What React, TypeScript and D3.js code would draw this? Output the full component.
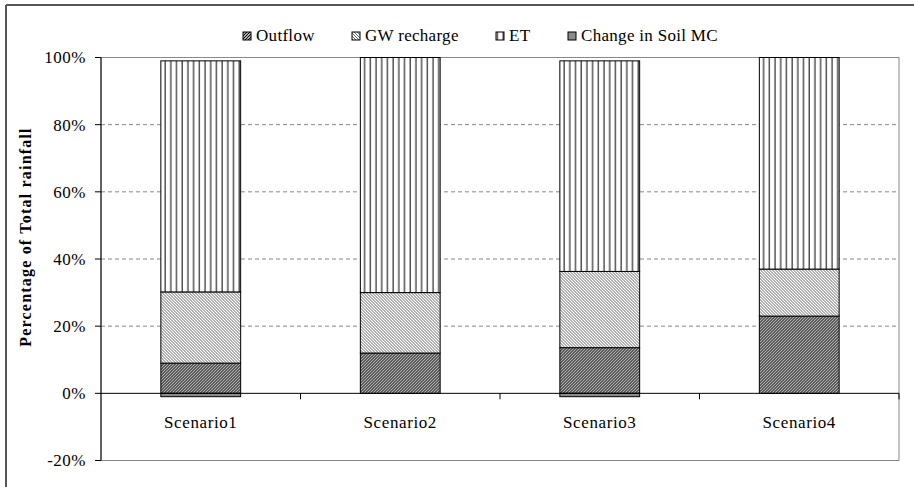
import React from 'react';
import * as d3 from 'd3';

// values in % of total rainfall
const scenarios = ['Scenario1', 'Scenario2', 'Scenario3', 'Scenario4'];
const outflow = [9, 12, 13.6, 23];
const gwRecharge = [21.2, 18, 22.7, 14];
const et = [68.8, 70, 62.7, 63];
const soilMC = [-1, 0, -1, 0];

const seriesNames = ['Outflow', 'GW recharge', 'ET', 'Change in Soil MC'];
const seriesFills = ['url(#pat-outflow)', 'url(#pat-gw)', 'url(#pat-et)', '#8a8a8a'];
const yTicks = [-20, 0, 20, 40, 60, 80, 100];

const W = 914;
const H = 487;
const margin = { top: 57.5, right: 15, bottom: 26.5, left: 101 };
const font = '"Liberation Serif", "Times New Roman", serif';

const App: React.FC = () => {
  const plotW = W - margin.left - margin.right;
  const plotH = H - margin.top - margin.bottom;

  const x = d3.scaleBand<string>()
    .domain(scenarios)
    .range([0, plotW])
    .paddingInner(0.6)
    .paddingOuter(0.3);

  const y = d3.scaleLinear().domain([-20, 100]).range([plotH, 0]);

  // stack positive parts, soil MC goes below zero
  const rows = scenarios.map((s, i) => {
    const parts: { key: number; y0: number; y1: number }[] = [];
    let acc = 0;
    [outflow[i], gwRecharge[i], et[i]].forEach((v, k) => {
      parts.push({ key: k, y0: acc, y1: acc + v });
      acc += v;
    });
    if (soilMC[i] < 0) parts.push({ key: 3, y0: soilMC[i], y1: 0 });
    return { s, parts };
  });

  const legendX = [243, 352, 496, 568];

  return (
    <svg width={W} height={H} style={{ position: 'absolute', left: 0, top: 0, background: '#fff' }}
      fontFamily={font}>
      <defs>
        <pattern id="pat-outflow" width={3} height={3} patternUnits="userSpaceOnUse">
          <rect width={3} height={3} fill="#fff" />
          <path d="M0,3 L3,0 M-1,1 L1,-1 M2,4 L4,2" stroke="#000" strokeWidth={1.2} />
        </pattern>
        <pattern id="pat-gw" width={3} height={3} patternUnits="userSpaceOnUse">
          <rect width={3} height={3} fill="#fff" />
          <path d="M0,0 L3,3 M-1,2 L1,4 M2,-1 L4,1" stroke="#222" strokeWidth={0.7} />
        </pattern>
        <pattern id="pat-et" width={5.7} height={10} patternUnits="userSpaceOnUse" x={margin.left}>
          <rect width={5.7} height={10} fill="#fff" />
          <line x1={3} x2={3} y1={0} y2={10} stroke="#000" strokeWidth={1} />
        </pattern>
      </defs>

      {/* outer frame */}
      <line x1={6} x2={W} y1={5} y2={5} stroke="#555" strokeWidth={2} />
      <line x1={6} x2={6} y1={5} y2={H} stroke="#555" strokeWidth={2} />

      {/* legend */}
      <g>
        {seriesNames.map((n, i) => (
          <g key={n} transform={`translate(${legendX[i]},36)`}>
            <rect x={0} y={-4} width={8} height={8} fill={seriesFills[i]} stroke="#000" strokeWidth={1} />
            <text x={13} y={5} fontSize={17} letterSpacing={0.3} fill="#000">{n}</text>
          </g>
        ))}
      </g>

      <g transform={`translate(${margin.left},${margin.top})`}>
        {/* grid */}
        {yTicks.filter(t => t > 0 && t < 100).map(t => (
          <line key={t} x1={0} x2={plotW} y1={y(t)} y2={y(t)} stroke="#888" strokeDasharray="4,3" />
        ))}
        <rect x={0} y={0} width={plotW} height={plotH} fill="none" stroke="#888" strokeWidth={1} />

        {/* bars */}
        {rows.map(r => (
          <g key={r.s}>
            {r.parts.map(p => (
              <rect key={p.key} x={x(r.s)!} width={x.bandwidth()}
                y={y(p.y1)} height={y(p.y0) - y(p.y1)}
                fill={seriesFills[p.key]} stroke="#000" strokeWidth={1} />
            ))}
          </g>
        ))}

        {/* x axis at 0 */}
        <line x1={0} x2={plotW} y1={y(0)} y2={y(0)} stroke="#000" strokeWidth={1} />
        {scenarios.map((s, i) => (
          <line key={s} x1={x.step() * (i + 1)} x2={x.step() * (i + 1)} y1={y(0)} y2={y(0) + 6}
            stroke="#000" />
        ))}
        {scenarios.map(s => (
          <text key={s} x={x(s)! + x.bandwidth() / 2} y={y(0) + 35} textAnchor="middle"
            fontSize={17} letterSpacing={0.6} fill="#000">{s}</text>
        ))}

        {/* y axis */}
        <line x1={0} x2={0} y1={0} y2={plotH} stroke="#000" strokeWidth={1} />
        {yTicks.map(t => (
          <g key={t} transform={`translate(0,${y(t)})`}>
            <line x1={-6} x2={0} stroke="#000" />
            <text x={-15} dy="0.35em" textAnchor="end" fontSize={17} letterSpacing={0.5} fill="#000">
              {t + '%'}
            </text>
          </g>
        ))}
      </g>

      <text transform="translate(31,237) rotate(-90)" textAnchor="middle" fontSize={16}
        fontWeight="bold" letterSpacing={1.2} fill="#000">Percentage of Total rainfall</text>
    </svg>
  );
};

export default App;
